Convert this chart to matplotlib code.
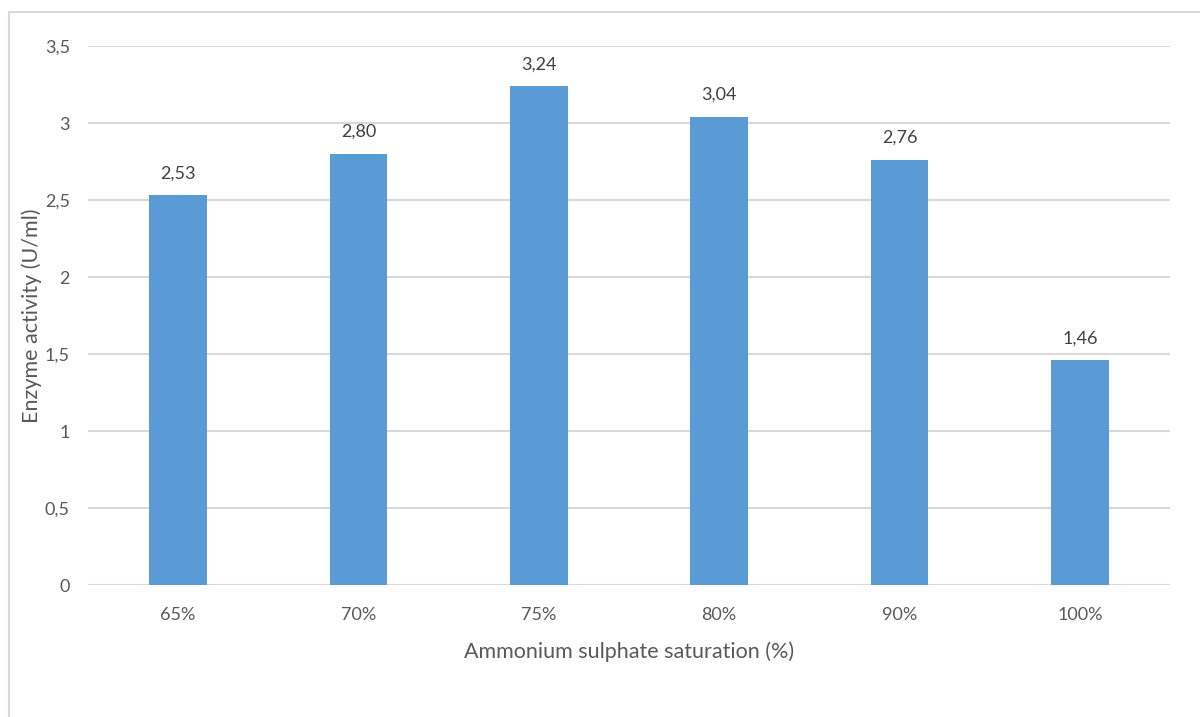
import matplotlib
matplotlib.use('Agg')
import matplotlib.pyplot as plt
from matplotlib.patches import Rectangle

categories = ['65%', '70%', '75%', '80%', '90%', '100%']
activity = [2.53, 2.80, 3.24, 3.04, 2.76, 1.46]
yticks = [0, 0.5, 1, 1.5, 2, 2.5, 3, 3.5]

plt.rcParams['font.family'] = ['Lato', 'DejaVu Sans']
txt = '#595959'
grid = '#d9d9d9'

def comma(v, fmt):
    return format(v, fmt).replace('.', ',')

fig = plt.figure(figsize=(12, 7.17), dpi=100)
# chart frame
fig.patches.append(Rectangle((9/1200, -0.01), 1.2, 1 - 12/717 + 0.01,
                             transform=fig.transFigure, fill=False,
                             edgecolor=grid, lw=1.5, zorder=0))

ax = fig.add_axes([88/1200, 1 - 585/717, 1082/1200, 539/717])
x = range(len(categories))
ax.bar(x, activity, width=0.32, color='#5b9bd5', zorder=3)
for i, v in zip(x, activity):
    ax.annotate(comma(v, '.2f'), (i, v), xytext=(0, 10), textcoords='offset points',
                ha='center', va='bottom', fontsize=13, color='#404040')

ax.set_xlim(-0.5, len(categories) - 0.5)
ax.set_ylim(0, 3.5)
ax.set_yticks(yticks)
ax.set_yticklabels([comma(t, 'g') for t in yticks])
ax.set_xticks(list(x))
ax.set_xticklabels(categories)
ax.tick_params(length=0, labelsize=13, colors=txt, pad=16)
ax.tick_params(axis='y', pad=13)
ax.grid(axis='y', color=grid, lw=1.5, zorder=0)
for s in ax.spines.values():
    s.set_visible(False)
ax.set_xlabel('Ammonium sulphate saturation (%)', fontsize=15.5, color=txt)
ax.set_ylabel('Enzyme activity (U/ml)', fontsize=15.5, color=txt)
ax.xaxis.set_label_coords(629/1200, 1 - 652/717, transform=fig.transFigure)
ax.yaxis.set_label_coords(32/1200, 1 - 316/717, transform=fig.transFigure)
ax.xaxis.label.set_va('center')
ax.yaxis.label.set_va('center')

fig.savefig('out.png', dpi=100)
